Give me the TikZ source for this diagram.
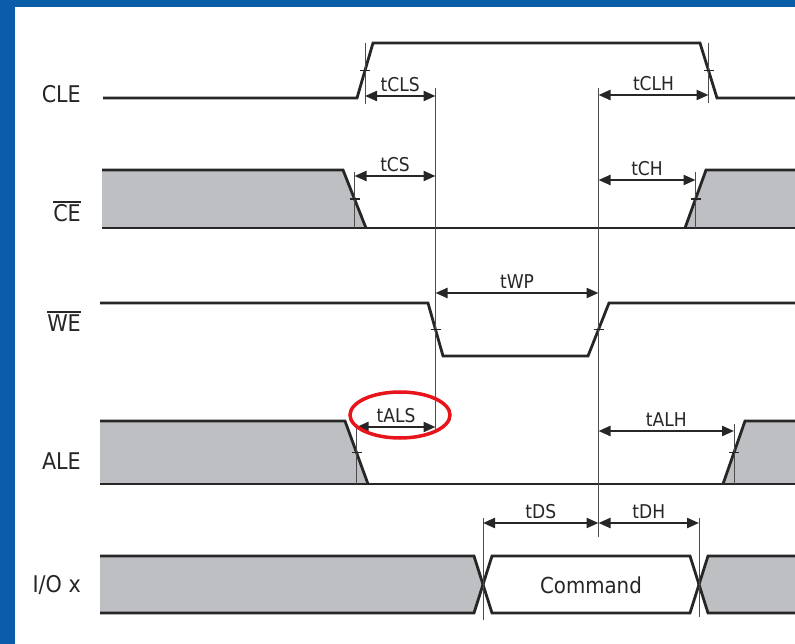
\documentclass[tikz,border=0pt]{standalone}
\usepackage{fontspec}
\setmainfont{DejaVu Sans Condensed}
\usetikzlibrary{arrows.meta}
\definecolor{frameblue}{HTML}{0A5DA8}
\definecolor{sigfill}{HTML}{BEBFC2}
\definecolor{ink}{HTML}{262626}
\definecolor{hl}{HTML}{E8141B}
\begin{document}
\begin{tikzpicture}[x=1pt,y=-1pt,
  sig/.style={line width=2.8pt, draw=ink, line join=miter},
  gfill/.style={fill=sigfill, draw=none},
  vline/.style={line width=0.9pt, draw=black!70},
  tickmark/.style={line width=1.1pt, draw=ink},
  dim/.style={{Triangle[length=12pt,width=10pt]}-{Triangle[length=12pt,width=10pt]}, line width=2.2pt, draw=ink},
  sname/.style={font=\fontsize{23}{23}\selectfont, text=ink, anchor=base east, inner sep=0pt},
  tlabel/.style={font=\fontsize{19}{19}\selectfont, text=ink, anchor=south, inner sep=0pt, yshift=3.5pt},
  ovl/.style={line width=2pt, draw=ink}
]
\useasboundingbox (0,0) rectangle (795,644);
\fill[white] (0,0) rectangle (795,644);
\fill[frameblue] (0,0) rectangle (795,7);
\fill[frameblue] (0,0) rectangle (15,644);

% signal names
\node[sname] (cle) at (81,103) {CLE};
\node[sname] (ce) at (81,222) {CE};
\draw[ovl] ([yshift=2.5pt]ce.north west) -- ([yshift=2.5pt]ce.north east);
\node[sname] (we) at (81,331) {WE};
\draw[ovl] ([yshift=2.5pt]we.north west) -- ([yshift=2.5pt]we.north east);
\node[sname] (ale) at (81,469) {ALE};
\node[sname] (io) at (81,592) {I/O x};

% fills
\fill[gfill] (102,170) -- (343,170) -- (366,228) -- (102,228) -- cycle;
\fill[gfill] (685,228) -- (706,170) -- (795,170) -- (795,228) -- cycle;
\fill[gfill] (100,421) -- (345,421) -- (368,484) -- (100,484) -- cycle;
\fill[gfill] (723,484) -- (745,421) -- (795,421) -- (795,484) -- cycle;
\fill[gfill] (100,556) -- (474,556) -- (483,584.5) -- (474,613) -- (100,613) -- cycle;
\fill[gfill] (795,556) -- (708,556) -- (699,584.5) -- (708,613) -- (795,613) -- cycle;

% waveforms
\draw[sig] (103,98) -- (357,98) -- (373,43) -- (700,43) -- (717,98) -- (795,98);
\draw[sig] (102,170) -- (343,170) -- (366,228);
\draw[sig] (685,228) -- (706,170) -- (795,170);
\draw[sig] (102,228) -- (795,228);
\draw[sig] (100,303) -- (428,303) -- (443,356) -- (588,356) -- (609,303) -- (795,303);
\draw[sig] (100,421) -- (345,421) -- (368,484);
\draw[sig] (723,484) -- (745,421) -- (795,421);
\draw[sig] (100,484) -- (795,484);
\draw[sig] (100,556) -- (474,556) -- (492,613) -- (690,613) -- (708,556) -- (795,556);
\draw[sig] (100,613) -- (474,613) -- (492,556) -- (690,556) -- (708,613) -- (795,613);
\node[font=\fontsize{22}{22}\selectfont, text=ink, inner sep=0pt] (cmd) at (591,585) {Command};

% crossing points
\coordinate (a1) at (365,70.5);
\coordinate (a2) at (708.5,70.5);
\coordinate (b1) at (354.5,199);
\coordinate (b2) at (695.5,199);
\coordinate (c1) at (435.5,329.5);
\coordinate (c2) at (598.5,329.5);
\coordinate (d1) at (356.5,452.5);
\coordinate (d2) at (734,452.5);
\coordinate (e1) at (483,584.5);
\coordinate (e2) at (699,584.5);

% reference lines
\draw[vline] (365,43) -- (365,104);
\draw[vline] (708.5,43) -- (708.5,103);
\draw[vline] (354.5,172) -- (354.5,228);
\draw[vline] (695.5,172) -- (695.5,228);
\draw[vline] (435.5,88) -- (435.5,432);
\draw[vline] (598.5,88) -- (598.5,537);
\draw[vline] (356.5,424) -- (356.5,484);
\draw[vline] (734,424) -- (734,484);
\draw[vline] (483,518) -- (483,620);
\draw[vline] (699,518) -- (699,617);

% ticks
\foreach \p in {a1,a2,b1,b2,c1,c2,d1,d2}
  \draw[tickmark] (\p) ++(-5,0) -- ++(10,0);

% dimension arrows
\coordinate (clsA) at (365,96);   \coordinate (clsB) at (435.5,96);
\coordinate (clhA) at (598.5,95); \coordinate (clhB) at (708.5,95);
\coordinate (csA) at (354.5,176); \coordinate (csB) at (435.5,176);
\coordinate (chA) at (598.5,180); \coordinate (chB) at (695.5,180);
\coordinate (wpA) at (435.5,293); \coordinate (wpB) at (598.5,293);
\coordinate (alsA) at (356.5,427); \coordinate (alsB) at (435.5,427);
\coordinate (alhA) at (598.5,431); \coordinate (alhB) at (734,431);
\coordinate (dsA) at (483,523);   \coordinate (dsB) at (598.5,523);
\coordinate (dhA) at (598.5,523); \coordinate (dhB) at (699,523);

\draw[dim] (clsA) -- node[tlabel] (lcls) {tCLS} (clsB);
\draw[dim] (clhA) -- node[tlabel] (lclh) {tCLH} (clhB);
\draw[dim] (csA) -- node[tlabel] (lcs) {tCS} (csB);
\draw[dim] (chA) -- node[tlabel] (lch) {tCH} (chB);
\draw[dim] (wpA) -- node[tlabel] (lwp) {tWP} (wpB);
\draw[dim] (alsA) -- node[tlabel] (lals) {tALS} (alsB);
\draw[dim] (alhA) -- node[tlabel] (lalh) {tALH} (alhB);
\draw[dim] (dsA) -- node[tlabel] (lds) {tDS} (dsB);
\draw[dim] (dhA) -- node[tlabel] (ldh) {tDH} (dhB);

% highlight
\draw[hl, line width=3.5pt] (400,415) ellipse [x radius=50, y radius=23];
\end{tikzpicture}
\end{document}
